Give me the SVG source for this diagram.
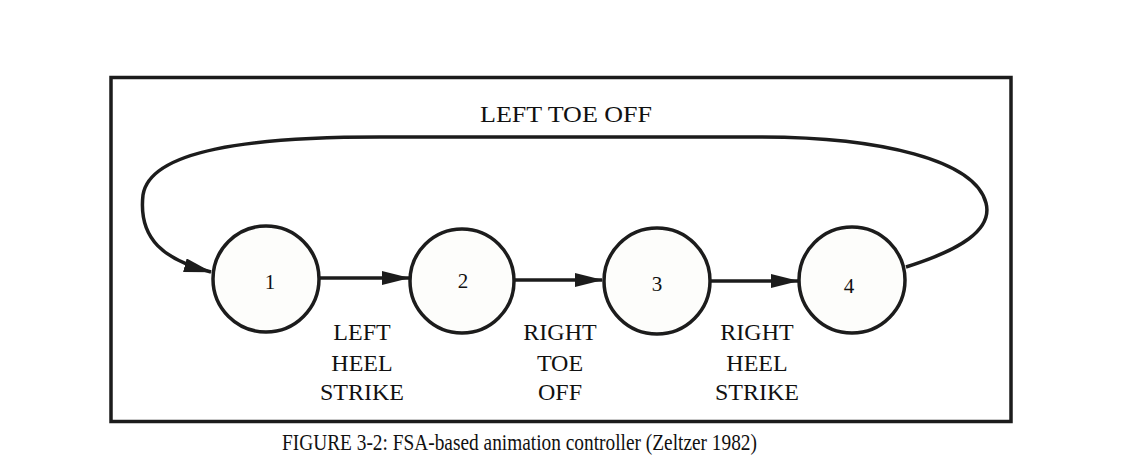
<svg xmlns="http://www.w3.org/2000/svg" width="1145" height="464" viewBox="0 0 1145 464">
<style>
.t{font-family:"Liberation Serif","Times New Roman",serif;fill:#111;text-anchor:middle}
.lbl{font-size:24px}
.num{font-size:21px}
.cap{font-size:23px}
.node{fill:#fdfdfb;stroke:#1c1c1c;stroke-width:3.5}
.edge{fill:none;stroke:#1c1c1c;stroke-width:3.5}
</style>
<defs>
<marker id="ah2" markerWidth="28" markerHeight="14" refX="27" refY="7" orient="auto" markerUnits="userSpaceOnUse" viewBox="0 0 28 14">
<path d="M0,0 L28,7 L0,14 Z" fill="#1c1c1c"/>
</marker>
</defs>
<rect x="0" y="0" width="1145" height="464" fill="#fff"/>
<rect x="111" y="77.5" width="900" height="344" fill="none" stroke="#1c1c1c" stroke-width="3.5"/>
<g id="connectors">
<path class="edge" d="M906,267 C960,250 993,230 986,203 C975,160 880,137 760,137 L380,137 C250,137 150,150 143,195 C138,240 165,260 211,272" marker-end="url(#ah2)"/>
<line class="edge" x1="319" y1="278" x2="409" y2="278" marker-end="url(#ah2)"/>
<line class="edge" x1="514" y1="280" x2="602" y2="280" marker-end="url(#ah2)"/>
<line class="edge" x1="711" y1="281" x2="798" y2="281" marker-end="url(#ah2)"/>
</g>
<g id="node1"><circle class="node" cx="266" cy="279" r="53"/><text class="t num" x="270" y="289">1</text></g>
<g id="node2"><circle class="node" cx="462" cy="281" r="52"/><text class="t num" x="463" y="288">2</text></g>
<g id="node3"><circle class="node" cx="657" cy="281" r="53"/><text class="t num" x="657" y="291">3</text></g>
<g id="node4"><circle class="node" cx="852" cy="280" r="53"/><text class="t num" x="849" y="293">4</text></g>
<g id="labels">
<text class="t lbl" x="566" y="122" textLength="172" lengthAdjust="spacingAndGlyphs">LEFT TOE OFF</text>
<text class="t lbl" x="362" y="340">LEFT</text>
<text class="t lbl" x="362" y="371">HEEL</text>
<text class="t lbl" x="362" y="400">STRIKE</text>
<text class="t lbl" x="560" y="340">RIGHT</text>
<text class="t lbl" x="560" y="371">TOE</text>
<text class="t lbl" x="560" y="400">OFF</text>
<text class="t lbl" x="757" y="340">RIGHT</text>
<text class="t lbl" x="757" y="371">HEEL</text>
<text class="t lbl" x="757" y="400">STRIKE</text>
</g>
<text class="t cap" x="519.5" y="450" textLength="475" lengthAdjust="spacingAndGlyphs">FIGURE 3-2: FSA-based animation controller (Zeltzer 1982)</text>
</svg>
